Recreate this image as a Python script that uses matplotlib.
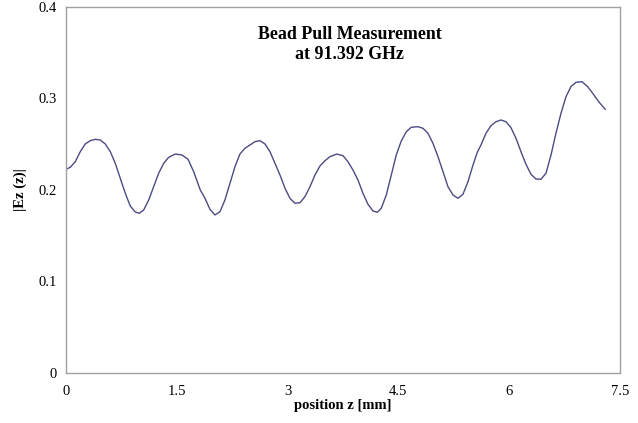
import matplotlib
matplotlib.use('Agg')
import matplotlib.pyplot as plt

position_z = [0.000, 0.058, 0.126, 0.194, 0.261, 0.329, 0.397, 0.464, 0.532, 0.600,
              0.667, 0.735, 0.803, 0.870, 0.938, 0.992, 1.052, 1.120, 1.187, 1.255,
              1.323, 1.390, 1.480, 1.570, 1.652, 1.729, 1.818, 1.882, 1.949, 2.017,
              2.085, 2.152, 2.220, 2.288, 2.355, 2.423, 2.491, 2.558, 2.626, 2.694,
              2.762, 2.829, 2.897, 2.965, 3.032, 3.100, 3.168, 3.235, 3.303, 3.371,
              3.438, 3.506, 3.574, 3.665, 3.750, 3.817, 3.885, 3.953, 4.020, 4.088,
              4.156, 4.214, 4.268, 4.336, 4.404, 4.471, 4.539, 4.607, 4.674, 4.765,
              4.833, 4.900, 4.968, 5.036, 5.104, 5.171, 5.239, 5.307, 5.374, 5.442,
              5.510, 5.568, 5.618, 5.686, 5.753, 5.821, 5.889, 5.956, 6.024, 6.092,
              6.159, 6.227, 6.295, 6.362, 6.430, 6.498, 6.566, 6.633, 6.701, 6.769,
              6.836, 6.904, 6.985, 7.062, 7.130, 7.211, 7.300]
ez_abs = [0.2226, 0.2248, 0.2309, 0.2419, 0.2503, 0.2539, 0.2554, 0.2546, 0.2503, 0.2419,
          0.2292, 0.2128, 0.1964, 0.1825, 0.1760, 0.1745, 0.1781, 0.1891, 0.2036, 0.2183,
          0.2292, 0.2357, 0.2393, 0.2383, 0.2336, 0.2200, 0.2000, 0.1909, 0.1789, 0.1727,
          0.1763, 0.1891, 0.2073, 0.2255, 0.2393, 0.2456, 0.2492, 0.2528, 0.2539, 0.2503,
          0.2419, 0.2292, 0.2164, 0.2019, 0.1909, 0.1855, 0.1861, 0.1927, 0.2036, 0.2164,
          0.2262, 0.2320, 0.2364, 0.2393, 0.2375, 0.2309, 0.2219, 0.2109, 0.1964, 0.1844,
          0.1771, 0.1756, 0.1800, 0.1945, 0.2164, 0.2383, 0.2536, 0.2637, 0.2685, 0.2692,
          0.2674, 0.2620, 0.2510, 0.2364, 0.2200, 0.2036, 0.1945, 0.1909, 0.1953, 0.2091,
          0.2273, 0.2412, 0.2492, 0.2620, 0.2703, 0.2746, 0.2765, 0.2746, 0.2681, 0.2565,
          0.2419, 0.2281, 0.2172, 0.2120, 0.2117, 0.2183, 0.2383, 0.2620, 0.2838, 0.3020,
          0.3129, 0.3177, 0.3184, 0.3129, 0.3057, 0.2965, 0.2882]

x_ticks = [0, 1.5, 3, 4.5, 6, 7.5]
x_tick_labels = ['0', '1.5', '3', '4.5', '6', '7.5']
y_ticks = [0, 0.1, 0.2, 0.3, 0.4]
y_tick_labels = ['0', '0.1', '0.2', '0.3', '0.4']

plt.rcParams['font.family'] = ['Liberation Serif', 'DejaVu Serif']

fig = plt.figure(figsize=(6.38, 4.23), dpi=100)
ax = fig.add_axes([0.1034, 0.1182, 0.8684, 0.8653])

ax.plot(position_z, ez_abs, color='#4b4b82', linewidth=1.0)

ax.set_xlim(0, 7.5)
ax.set_ylim(0, 0.4)
ax.set_xticks(x_ticks)
ax.set_xticklabels(x_tick_labels)
ax.set_yticks(y_ticks)
ax.set_yticklabels(y_tick_labels)
ax.tick_params(axis='both', length=0, labelsize=10.5)
ax.tick_params(axis='x', pad=8.5)
ax.tick_params(axis='y', pad=6.5)

for spine in ax.spines.values():
    spine.set_color('#a0a0a0')
    spine.set_linewidth(1.0)

ax.set_xlabel('position z [mm]', fontsize=10.5, fontweight='bold', labelpad=1)
ax.set_ylabel('|Ez (z)|', fontsize=10.5, fontweight='bold', labelpad=8)

ax.text(0.512, 0.897, 'Bead Pull Measurement\nat 91.392 GHz', transform=ax.transAxes,
        ha='center', va='center', fontsize=12.9, fontweight='bold', linespacing=1.2)

fig.savefig('out.png', dpi=100)
